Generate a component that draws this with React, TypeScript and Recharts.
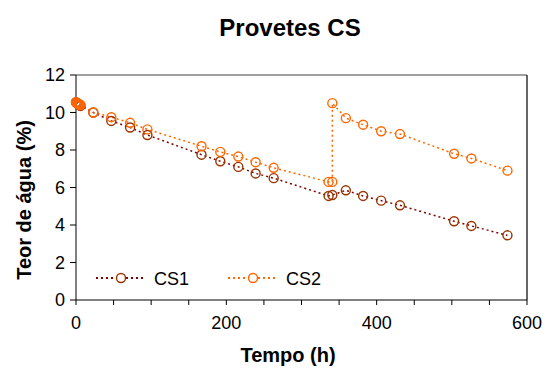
import { LineChart, Line, XAxis, YAxis, ReferenceLine } from "recharts";

const hoursCS1 = [0, 1, 2, 3, 4, 5, 6, 23, 47, 72, 95, 167, 192, 216, 239, 263, 336, 341, 359, 382, 406, 431, 503, 526, 574];
const teorCS1 = [10.55, 10.5, 10.5, 10.45, 10.4, 10.4, 10.35, 10.0, 9.55, 9.2, 8.8, 7.75, 7.4, 7.1, 6.75, 6.5, 5.55, 5.6, 5.85, 5.55, 5.3, 5.05, 4.2, 3.95, 3.45];

const hoursCS2 = [0, 1, 2, 3, 4, 5, 6, 23, 47, 72, 95, 167, 192, 216, 239, 263, 336, 341, 341, 359, 382, 406, 431, 503, 526, 574];
const teorCS2 = [10.55, 10.5, 10.5, 10.45, 10.45, 10.4, 10.4, 10.0, 9.75, 9.45, 9.1, 8.2, 7.9, 7.65, 7.35, 7.05, 6.3, 6.3, 10.5, 9.7, 9.35, 9.0, 8.85, 7.8, 7.55, 6.9];

const xTicks = [0, 50, 100, 150, 200, 250, 300, 350, 400, 450, 500, 550, 600];
const yTicks = [0, 2, 4, 6, 8, 10, 12];

const series = [
  { name: "CS1", line: "#800000", marker: "#993300", hours: hoursCS1, values: teorCS1 },
  { name: "CS2", line: "#FF6600", marker: "#FF6600", hours: hoursCS2, values: teorCS2 },
];

const font = "'Liberation Sans', Arial, sans-serif";

function LegendBox() {
  return (
    <svg width={260} height={24} style={{ position: "absolute", left: 96, top: 266 }}>
      {series.map((s, i) => {
        const x0 = i * 132;
        return (
          <g key={s.name}>
            <line x1={x0} y1={12} x2={x0 + 50} y2={12} stroke={s.line} strokeWidth={2} strokeDasharray="2 3" />
            <circle cx={x0 + 25} cy={12} r={4.5} fill="#fff" stroke={s.marker} strokeWidth={1.4} />
            <text x={x0 + 58} y={18.5} fontSize={18} fontFamily={font} fill="#000">{s.name}</text>
          </g>
        );
      })}
    </svg>
  );
}

// x tick label, drawn lower than the default so it sits where the reference has it
function XTick(props: any) {
  const { x, y, payload } = props;
  if (payload.value % 200 !== 0) return null;
  return (
    <text x={x} y={y + 22} textAnchor="middle" fontSize={18} fontFamily={font} fill="#000">
      {payload.value}
    </text>
  );
}

const centered = { position: "absolute" as const, transform: "translate(-50%, -50%)", whiteSpace: "nowrap" as const, lineHeight: 1, fontWeight: "bold" as const };

export default function App() {
  return (
    <div style={{ position: "relative", width: 557, height: 374, marginLeft: -8, marginTop: -8, overflow: "hidden", background: "#fff", fontFamily: font }}>
      <div style={{ position: "absolute", left: 0, top: 0 }}>
        <LineChart width={557} height={374} margin={{ top: 75, right: 30, left: 34, bottom: 44 }}>
          <XAxis
            type="number"
            dataKey="h"
            domain={[0, 600]}
            ticks={xTicks}
            interval={0}
            tickSize={5}
            tick={<XTick />}
            axisLine={{ stroke: "#000" }}
            tickLine={{ stroke: "#000" }}
            height={30}
            allowDuplicatedCategory={false}
          />
          <YAxis
            type="number"
            dataKey="v"
            domain={[0, 12]}
            ticks={yTicks}
            interval={0}
            tickSize={6}
            tickMargin={5}
            axisLine={{ stroke: "#000" }}
            tickLine={{ stroke: "#000" }}
            tick={{ fill: "#000", fontSize: 18, fontFamily: font }}
            width={42}
          />
          <ReferenceLine y={12} stroke="#808080" strokeWidth={1.5} />
          <ReferenceLine x={600} stroke="#333" strokeWidth={1.5} />
          {series.map((s) => (
            <Line
              key={s.name}
              name={s.name}
              data={s.hours.map((h, i) => ({ h, v: s.values[i] }))}
              dataKey="v"
              type="linear"
              stroke={s.line}
              strokeWidth={1.5}
              strokeDasharray="2 3"
              dot={{ r: 4.5, stroke: s.marker, strokeWidth: 1.4, fill: "none", strokeDasharray: "" }}
              isAnimationActive={false}
            />
          ))}
        </LineChart>
      </div>
      <LegendBox />
      <div style={{ ...centered, left: 290, top: 28, fontSize: 24 }}>Provetes CS</div>
      <div style={{ ...centered, left: 24, top: 200, fontSize: 20, transform: "translate(-50%, -50%) rotate(-90deg)" }}>
        Teor de água (%)
      </div>
      <div style={{ ...centered, left: 288, top: 355, fontSize: 20 }}>Tempo (h)</div>
      {/* outer chart frame: only its left and top edges fall inside the picture */}
      <div style={{ position: "absolute", left: 5, top: 6, width: 2, height: 368, background: "#222" }} />
      <div style={{ position: "absolute", left: 5, top: 6, width: 552, height: 2, background: "#222" }} />
    </div>
  );
}
